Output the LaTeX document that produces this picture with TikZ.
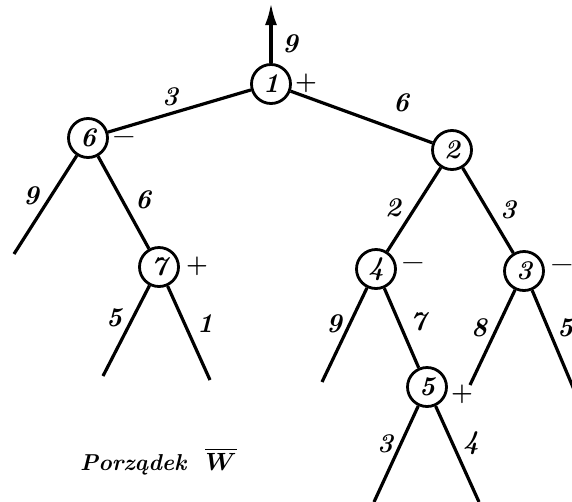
\documentclass[tikz,border=0pt]{standalone}
\usepackage{fontspec}
\usepackage{amsmath}
\usetikzlibrary{arrows.meta}
\begin{document}
\begin{tikzpicture}[x=1pt,y=-1pt,
  every node/.style={font=\fontsize{27}{30}\selectfont\bfseries\itshape},
  vert/.style={circle,draw,line width=2.8pt,minimum size=39pt,inner sep=0pt},
  edge/.style={line width=3.2pt},
  lbl/.style={inner sep=0pt},
  plus/.style={inner sep=0pt,font=\fontsize{25}{28}\selectfont\bfseries\upshape},
  minus/.style={inner sep=0pt,font=\fontsize{34}{36}\selectfont\bfseries\upshape}]
\useasboundingbox (0,0) rectangle (572,501);
% vertices
\node[vert] (n1) at (271,84) {1};
\node[vert] (n6) at (88,138) {6};
\node[vert] (n2) at (452,150) {2};
\node[vert] (n7) at (159,267) {7};
\node[vert] (n4) at (376,269) {4};
\node[vert] (n3) at (524,271) {3};
\node[vert] (n5) at (427,387) {5};
% free ends
\coordinate (top) at (271,3);
\coordinate (l6) at (14,254);
\coordinate (l7a) at (103,376);
\coordinate (l7b) at (210,380);
\coordinate (l4) at (322,382);
\coordinate (l3a) at (470,385);
\coordinate (l3b) at (575,392);
\coordinate (l5a) at (374,502);
\coordinate (l5b) at (479,502);
% connectors
\draw[edge,-{Latex[length=22pt,width=12pt]}] (n1) -- (top);
\draw[edge] (n1) -- (n6);
\draw[edge] (n1) -- (n2);
\draw[edge] (n6) -- (l6);
\draw[edge] (n6) -- (n7);
\draw[edge] (n7) -- (l7a);
\draw[edge] (n7) -- (l7b);
\draw[edge] (n2) -- (n4);
\draw[edge] (n2) -- (n3);
\draw[edge] (n4) -- (l4);
\draw[edge] (n4) -- (n5);
\draw[edge] (n3) -- (l3a);
\draw[edge] (n3) -- (l3b);
\draw[edge] (n5) -- (l5a);
\draw[edge] (n5) -- (l5b);
% edge labels
\node[lbl] (w9t) at (290,44) {9};
\node[lbl] (w3a) at (170,97) {3};
\node[lbl] (w6a) at (401,103) {6};
\node[lbl] (w9a) at (31,196) {9};
\node[lbl] (w6b) at (143,200) {6};
\node[lbl] (w5a) at (114,318) {5};
\node[lbl] (w1a) at (205,324) {1};
\node[lbl] (w2a) at (393,208) {2};
\node[lbl] (w3b) at (508,210) {3};
\node[lbl] (w9b) at (334,324) {9};
\node[lbl] (w7a) at (418,322) {7};
\node[lbl] (w8a) at (479,328) {8};
\node[lbl] (w5b) at (565,328) {5};
\node[lbl] (w3c) at (385,444) {3};
\node[lbl] (w4a) at (471,443) {4};
% signs
\node[plus] (s1) at (306,83) {+};
\node[minus] (s6) at (124,142) {–};
\node[plus] (s7) at (197,266) {+};
\node[minus] (s4) at (413,268) {–};
\node[minus] (s3) at (562,270) {–};
\node[plus] (s5) at (462,394) {+};
% caption
\node[anchor=base west,inner sep=0pt,font=\fontsize{23}{26}\selectfont\bfseries\itshape] (cap) at (80,470) {Porządek\ \ $\boldsymbol{\overline{W}}$};
\end{tikzpicture}
\end{document}
